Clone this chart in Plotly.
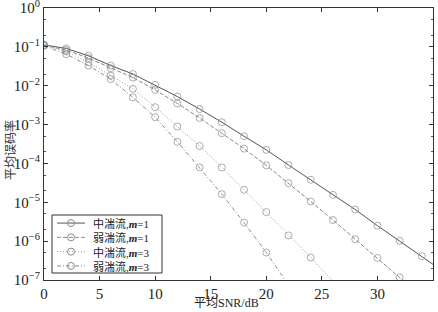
import plotly.graph_objects as go

snr = [0, 2, 4, 6, 8, 10, 12, 14, 16, 18, 20, 22, 24, 26, 28, 30, 32, 34, 36]

ber_mod_m1 = [0.112, 0.0912, 0.0589, 0.0331, 0.0200, 0.0105, 5.25e-3, 2.51e-3, 1.15e-3,
              5.0e-4, 2.24e-4, 9.1e-5, 3.8e-5, 1.55e-5, 6.5e-6, 2.5e-6, 1.02e-6, 4.1e-7, 1.6e-7]
ber_weak_m1 = [0.110, 0.083, 0.0513, 0.0282, 0.0162, 7.8e-3, 3.5e-3, 1.48e-3, 6.0e-4,
               2.4e-4, 8.9e-5, 3.1e-5, 1.05e-5, 3.5e-6, 1.12e-6, 3.7e-7, 1.17e-7, 3.7e-8]
ber_mod_m3 = [0.112, 0.076, 0.040, 0.0182, 8.3e-3, 2.8e-3, 8.9e-4, 2.8e-4, 7.9e-5,
              2.1e-5, 5.6e-6, 1.4e-6, 3.8e-7, 9.3e-8]
ber_weak_m3 = [0.107, 0.065, 0.033, 0.0148, 5.0e-3, 1.55e-3, 3.6e-4, 7.9e-5, 1.62e-5,
               3.0e-6, 5.1e-7, 7.4e-8]

names = ["中湍流,<b><i>m</i></b>=1", "弱湍流,<b><i>m</i></b>=1",
         "中湍流,<b><i>m</i></b>=3", "弱湍流,<b><i>m</i></b>=3"]
series = [ber_mod_m1, ber_weak_m1, ber_mod_m3, ber_weak_m3]
colors = ["#555555", "#888888", "#9a9a9a", "#8c8c8c"]
dashes = ["solid", "4px,2px", "1px,2px", "4px,2px,1px,2px"]
mcolor = "#8a8a8a"

W, H = 438, 312
ML, MR, MT, MB = 44, 5, 8, 32
PW, PH = W - ML - MR, H - MT - MB


def px(xp):
    return (xp - ML) / PW


def py(yp):
    return (H - MB - yp) / PH


fig = go.Figure()
for nm, ys, c, d in zip(names, series, colors, dashes):
    xs = snr[:len(ys)]
    sizes = [7 if (y >= 1e-7 and x <= 35) else 0 for x, y in zip(xs, ys)]
    fig.add_trace(go.Scatter(
        x=xs, y=ys, name=nm, mode="lines+markers", showlegend=False,
        line=dict(color=c, width=1, dash=d),
        marker=dict(symbol="circle-open", size=sizes, color=mcolor,
                    line=dict(width=1, color=mcolor)),
    ))

# manual legend (MATLAB-style compact box)
LEG_FS = 11
leg_center = 244.5
spacing = 1.3 * LEG_FS
shapes = [dict(type="rect", xref="paper", yref="paper",
               x0=px(52), x1=px(162), y0=py(273), y1=py(215),
               line=dict(color="#333", width=1), fillcolor="white", layer="above")]
annotations = []
n = len(names)
for i, (c, d) in enumerate(zip(colors, dashes)):
    ry = leg_center + (i - (n - 1) / 2) * spacing
    shapes.append(dict(type="line", xref="paper", yref="paper",
                       x0=px(57), x1=px(85), y0=py(ry), y1=py(ry),
                       line=dict(color=c, width=1, dash=d), layer="above"))
    shapes.append(dict(type="circle", xref="paper", yref="paper",
                       x0=px(71 - 3.5), x1=px(71 + 3.5), y0=py(ry + 3.5), y1=py(ry - 3.5),
                       line=dict(color=mcolor, width=1), fillcolor="rgba(0,0,0,0)", layer="above"))
annotations.append(dict(x=px(91), y=py(leg_center), xref="paper", yref="paper", showarrow=False,
                        text="<br>".join(names), xanchor="left", yanchor="middle", align="left",
                        font=dict(family="Liberation Serif, Noto Sans CJK SC, serif",
                                  size=LEG_FS, color="#222")))

annotations.append(dict(x=px(226), y=py(312), xref="paper", yref="paper", showarrow=False,
                        text="平均SNR/dB", xanchor="center", yanchor="bottom",
                        font=dict(family="Liberation Serif, Noto Sans CJK SC, serif", size=12)))
annotations.append(dict(x=px(10), y=py(150), xref="paper", yref="paper", showarrow=False,
                        text="平均误码率", textangle=-90, xanchor="center", yanchor="middle",
                        font=dict(family="Noto Sans CJK SC", size=12, color="#333")))

ytv = [10.0 ** (-k) for k in range(0, 8)]
ytt = ["10<sup>%s</sup>" % ("0" if k == 0 else "−%d" % k) for k in range(0, 8)]

serif = "Liberation Serif, Times New Roman, Noto Sans CJK SC, serif"
fig.update_layout(
    width=W, height=H,
    margin=dict(l=ML, r=MR, t=MT, b=MB, autoexpand=False),
    paper_bgcolor="white", plot_bgcolor="white",
    font=dict(family=serif, size=13, color="#222"),
    showlegend=False,
    shapes=shapes, annotations=annotations,
)
fig.update_xaxes(
    range=[0, 35], tickvals=[0, 5, 10, 15, 20, 25, 30, 35],
    ticks="inside", ticklen=4, tickcolor="#333", mirror="ticks",
    showline=True, linecolor="#333", linewidth=1, showgrid=False, zeroline=False,
    tickfont=dict(size=15), automargin=False,
)
fig.update_yaxes(
    type="log", range=[-7, 0], tickvals=ytv, ticktext=ytt,
    ticks="inside", ticklen=4, tickcolor="#333", mirror="ticks",
    showline=True, linecolor="#333", linewidth=1, showgrid=False, zeroline=False,
    minor=dict(ticks="inside", ticklen=2, tickcolor="#555", showgrid=False),
    tickfont=dict(size=15), ticklabeloverflow="allow", automargin=False,
)
fig.write_html("out.html")
